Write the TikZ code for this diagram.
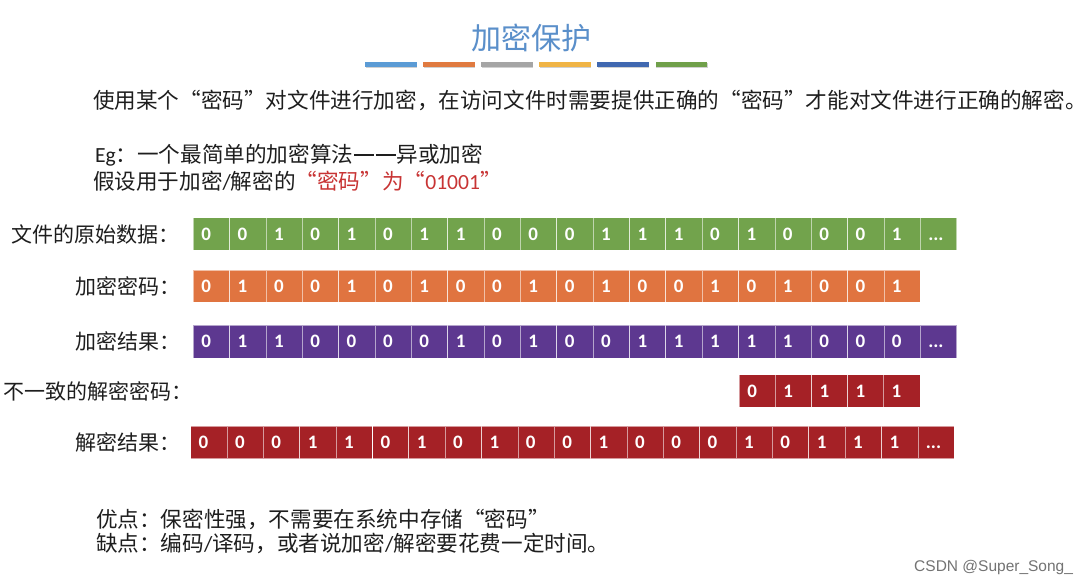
\documentclass[tikz,border=0pt]{standalone}
\usepackage{fontspec}
\setmainfont{Noto Sans CJK SC}
\newfontfamily\lat{Carlito}
\newfontfamily\wmfont{Liberation Sans}
\newcommand\cellmore{...}
\newcommand\zlq{\makebox[1em][r]{“}}
\newcommand\zrq{\makebox[1em][l]{”}}
\newcommand\zdash{\makebox[1em][c]{\rule[0.3em]{0.92em}{1.9pt}}}
\definecolor{titleblue}{HTML}{5A8FCA}
\definecolor{barA}{HTML}{5B9BD5}
\definecolor{barB}{HTML}{E07A40}
\definecolor{barC}{HTML}{A5A5A5}
\definecolor{barD}{HTML}{F0B445}
\definecolor{barE}{HTML}{4068B0}
\definecolor{barF}{HTML}{70A04A}
\definecolor{cgreen}{HTML}{72A34C}
\definecolor{corange}{HTML}{E07440}
\definecolor{cpurple}{HTML}{5D3890}
\definecolor{cred}{HTML}{A52126}
\definecolor{txtred}{HTML}{C83434}
\definecolor{bodytxt}{HTML}{1E1E1E}
\begin{document}
\begin{tikzpicture}[x=1pt,y=-1pt,
  every node/.style={inner sep=0pt, outer sep=0pt},
  body/.style={font=\fontsize{21.6}{24}\selectfont, text=bodytxt, anchor=west},
  lbl/.style={font=\fontsize{21}{24}\selectfont, text=bodytxt},
  cell/.style={rectangle, fill=#1, draw=white, draw opacity=0.55, line width=0.8pt,
    minimum width=36.35pt, minimum height=32.5pt, text width=20.35pt, align=left,
    inner xsep=8pt, inner ysep=0pt, text height=12pt, text depth=0pt,
    text=white, font=\lat\fontsize{19}{19}\bfseries\selectfont, anchor=west},
  bar/.style={fill=#1, draw=none},
  barshadow/.style={fill=black, fill opacity=0.18, draw=none}
]
\useasboundingbox[fill=white] (0,0) rectangle (1087,585);

% title
\node[font=\fontsize{30}{34}\selectfont, text=titleblue] (title) at (531.7,38) {加密保护};

% colour bars
\foreach \c [count=\i from 0] in {barA,barB,barC,barD,barE,barF}{
  \fill[barshadow] (365.5+\i*58.1,63.2) rectangle ++(51.5,5.2);
  \fill[bar=\c] (365+\i*58.1,61.7) rectangle ++(51.5,5);
}

% body text
\node[body] (t1) at (93,100) {使用某个\zlq 密码\zrq 对文件进行加密，在访问文件时需要提供正确的\zlq 密码\zrq 才能对文件进行正确的解密。};
\node[body] (t2) at (95,155) {{\lat Eg}：一个最简单的加密算法\zdash\zdash 异或加密};
\node[body] (t3) at (93,181) {假设用于加密{\lat/}解密的\textcolor{txtred}{\zlq 密码\zrq 为\zlq{\lat 01001}\zrq}};

% row labels
\node[lbl, anchor=east] (l1) at (180,234.1) {文件的原始数据：};
\node[lbl, anchor=east] (l2) at (180,286.2) {加密密码：};
\node[lbl, anchor=east] (l3) at (180,341.7) {加密结果：};
\node[lbl, anchor=west] (l4) at (4,391) {不一致的解密密码：};
\node[lbl, anchor=east] (l5) at (180,442.3) {解密结果：};

% rows of cells
\foreach \v [count=\i from 0] in {0,0,1,0,1,0,1,1,0,0,0,1,1,1,0,1,0,0,0,1,\cellmore}
  \node[cell=cgreen] (g\i) at (193.3+\i*36.35,234.1) {\v};
\foreach \v [count=\i from 0] in {0,1,0,0,1,0,1,0,0,1,0,1,0,0,1,0,1,0,0,1}
  \node[cell=corange] (o\i) at (193.3+\i*36.35,286.2) {\v};
\foreach \v [count=\i from 0] in {0,1,1,0,0,0,0,1,0,1,0,0,1,1,1,1,1,0,0,0,\cellmore}
  \node[cell=cpurple] (p\i) at (193.3+\i*36.35,341.7) {\v};
\foreach \v [count=\i from 0] in {0,1,1,1,1}
  \node[cell=cred] (k\i) at (739.3+\i*36.1,391) {\v};
\foreach \v [count=\i from 0] in {0,0,0,1,1,0,1,0,1,0,0,1,0,0,0,1,0,1,1,1,\cellmore}
  \node[cell=cred] (d\i) at (190.7+\i*36.36,442.3) {\v};

% pros / cons
\node[body] (t4) at (96,519) {优点：保密性强，不需要在系统中存储\zlq 密码\zrq};
\node[body] (t5) at (96,543) {缺点：编码{\lat/}译码，或者说加密{\lat/}解密要花费一定时间。};

% credit
\node[font=\wmfont\fontsize{15.5}{15.5}\selectfont, text=black!55, anchor=east] (csdn) at (1073,567) {CSDN @Super\_Song\_};
\end{tikzpicture}
\end{document}
